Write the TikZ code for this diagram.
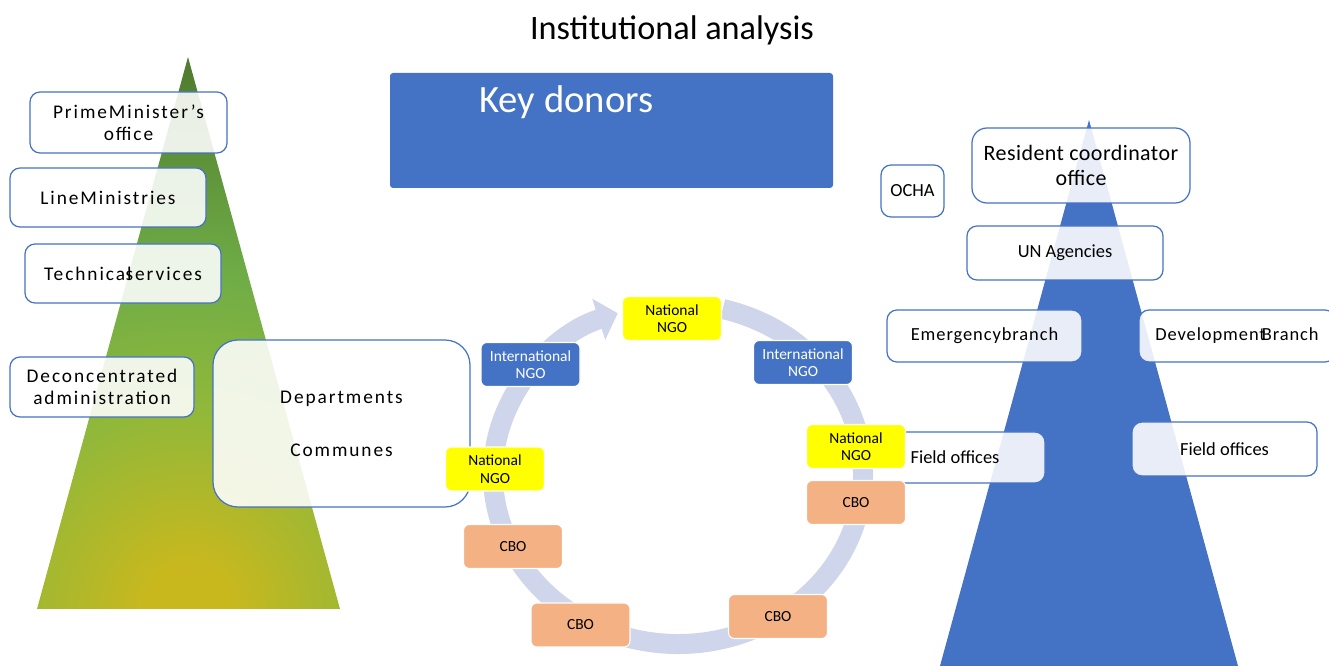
\documentclass[tikz,border=0pt]{standalone}
\usepackage{fontspec}
\setmainfont{Carlito}
\newfontfamily\widefont[LetterSpace=10]{Carlito}
\newfontfamily\halfwide[LetterSpace=5]{Carlito}
\newfontfamily\slightwide[LetterSpace=2]{Carlito}
\usetikzlibrary{arrows.meta}

\definecolor{unblue}{RGB}{68,114,196}
\definecolor{ringblue}{RGB}{207,213,234}
\definecolor{cbopeach}{RGB}{244,177,131}
\definecolor{ngoyellow}{RGB}{255,255,0}
\definecolor{darkgreen}{RGB}{78,122,46}
\definecolor{midgreen}{RGB}{112,173,71}
\definecolor{leafgreen}{RGB}{145,184,58}
\definecolor{goldgreen}{RGB}{200,184,30}

% glow from the base of the government pyramid (25bp = circle edge)
\pgfdeclareradialshading{govglow}{\pgfpoint{0bp}{0bp}}{color(0bp)=(goldgreen); color(2bp)=(goldgreen); color(9bp)=(leafgreen); color(15bp)=(midgreen); color(25bp)=(darkgreen); color(50bp)=(darkgreen)}

\tikzset{
  tierbox/.style={rectangle, rounded corners=2mm, draw=unblue, line width=0.7pt, fill=white, fill opacity=0.88, text opacity=1, align=center},
  govbox/.style={tierbox, font=\widefont\fontsize{11}{12.5}\selectfont},
  unbox/.style={tierbox, font=\fontsize{10.5}{12}\selectfont},
  cyclebox/.style={rectangle, rounded corners=1.2mm, draw=white, line width=0.6pt, minimum width=1.98cm, minimum height=0.88cm, align=center, font=\fontsize{8.8}{10}\selectfont},
  natngo/.style={cyclebox, fill=ngoyellow},
  intngo/.style={cyclebox, fill=unblue, text=white},
  cbo/.style={cyclebox, fill=cbopeach}
}

\begin{document}
\begin{tikzpicture}
\path[use as bounding box, clip] (0,0) rectangle (26.58,-13.32);

\node (title) at (13.44,-0.80) [anchor=base, font=\fontsize{19.5}{22}\selectfont] {Institutional analysis};

\node (donors) at (12.23,-2.61) [rectangle, rounded corners=0.6mm, fill=unblue, minimum width=8.86cm, minimum height=2.3cm] {};
\node (donorslabel) at (11.33,-2.26) [anchor=base, text=white, font=\fontsize{22}{26}\selectfont] {Key donors};

% government pyramid
\begin{scope}
\clip (3.76,-1.14) -- (0.74,-12.18) -- (6.8,-12.18) -- cycle;
\shade[shading=govglow] (3.77,-12.18) circle (11.1);
\end{scope}
\node (pmo) at (2.57,-2.45) [govbox, minimum width=3.94cm, minimum height=1.22cm] {PrimeMinister’s\\office};
\node (linemin) at (2.16,-3.95) [govbox, minimum width=3.92cm, minimum height=1.18cm] {LineMinistries};
\node (techserv) at (2.46,-5.47) [govbox, minimum width=3.92cm, minimum height=1.18cm] {Technical\kern-.3em services};
\node (deconc) at (2.04,-7.74) [govbox, minimum width=3.68cm, minimum height=1.2cm] {Deconcentrated\\administration};
\node (depts) at (6.83,-8.47) [govbox, rounded corners=5mm, minimum width=5.14cm, minimum height=3.34cm] {Departments\\[0.62cm]Communes};

% UN pyramid
\fill[unblue] (21.78,-2.4) -- (18.8,-13.32) -- (24.76,-13.32) -- cycle;
\node (ocha) at (18.25,-3.82) [unbox, minimum width=1.26cm, minimum height=1.04cm] {OCHA};
\node (rco) at (21.62,-3.31) [unbox, rounded corners=3mm, minimum width=4.36cm, minimum height=1.5cm, font=\slightwide\fontsize{12.5}{14}\selectfont] {Resident coordinator\\office};
\node (unag) at (21.3,-5.06) [unbox, minimum width=3.92cm, minimum height=1.08cm] {UN Agencies};
\node (emerg) at (19.69,-6.72) [unbox, minimum width=3.9cm, minimum height=1.04cm, font=\halfwide\fontsize{10.5}{12}\selectfont] {Emergencybranch};
\node (devel) at (24.74,-6.72) [unbox, minimum width=3.92cm, minimum height=1.04cm, font=\halfwide\fontsize{10.5}{12}\selectfont] {Development\kern-.2em Branch};
\node (fieldL) at (19.1,-9.15) [unbox, minimum width=3.6cm, minimum height=1.02cm] {Field offices};
\node (fieldR) at (24.49,-8.98) [unbox, minimum width=3.7cm, minimum height=1.08cm] {Field offices};

% NGO cycle
\draw[ringblue, line width=0.4cm, -{Triangle[width=0.84cm,length=0.4cm]}] (13.56,-9.48) ++(76:3.7 and 3.4) arc[start angle=76, end angle=-251, x radius=3.7, y radius=3.4];
\node (ngoT) at (13.44,-6.37) [natngo] {National\\NGO};
\node (ingoL) at (10.61,-7.29) [intngo] {International\\NGO};
\node (ingoR) at (16.06,-7.25) [intngo] {International\\NGO};
\node (ngoL) at (9.9,-9.38) [natngo] {National\\NGO};
\node (ngoR) at (17.12,-8.93) [natngo] {National\\NGO};
\node (cboR) at (17.12,-10.05) [cbo] {CBO};
\node (cboL) at (10.26,-10.93) [cbo] {CBO};
\node (cboBL) at (11.61,-12.5) [cbo] {CBO};
\node (cboBR) at (15.56,-12.33) [cbo] {CBO};
\end{tikzpicture}
\end{document}
